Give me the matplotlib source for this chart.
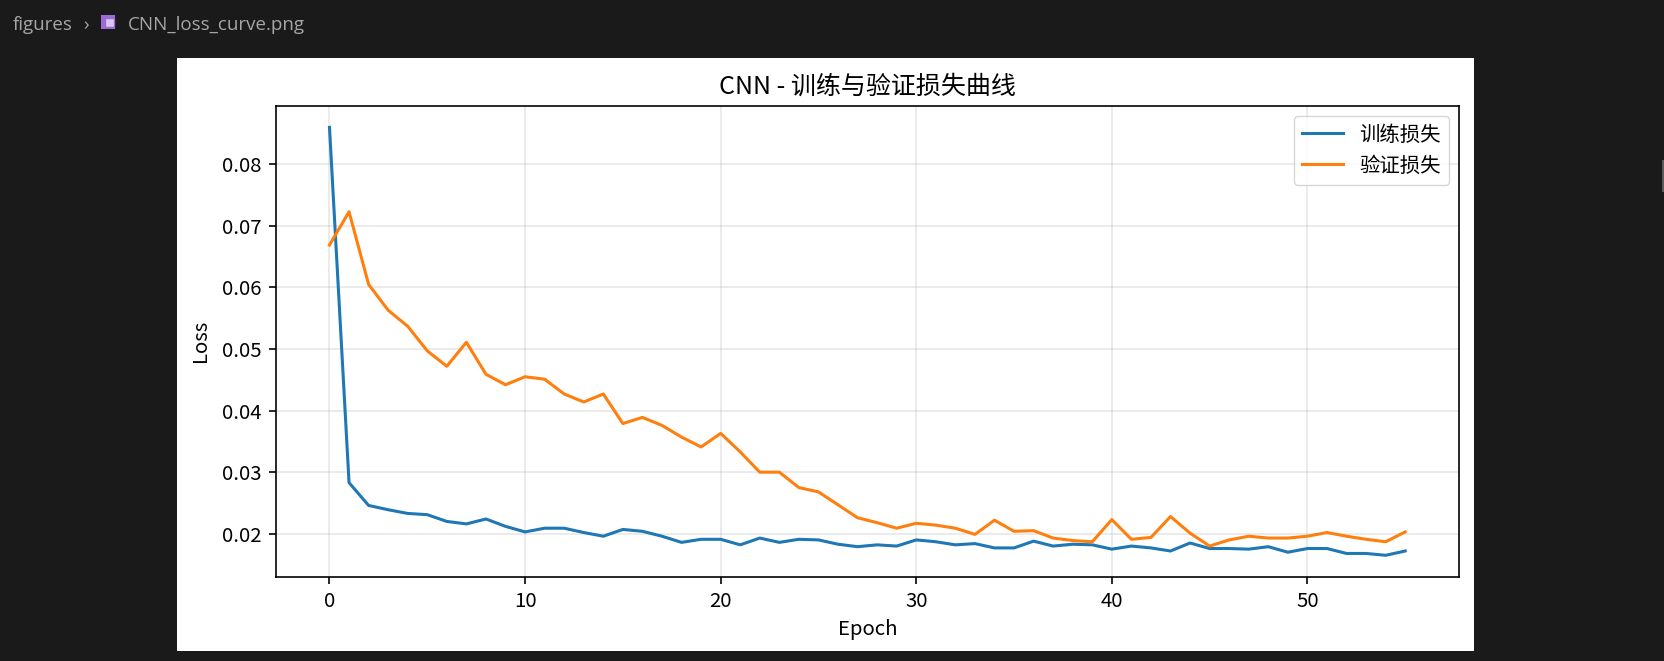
import matplotlib
matplotlib.use("Agg")
import matplotlib.pyplot as plt
from matplotlib.patches import Rectangle

plt.rcParams['font.family'] = ['Noto Sans CJK SC', 'DejaVu Sans']
plt.rcParams['axes.unicode_minus'] = False

# loss values, one per epoch (0..55)
train_loss = [0.0860, 0.0283, 0.0246, 0.0239, 0.0233, 0.0231, 0.0220, 0.0216, 0.0224, 0.0212,
              0.0203, 0.0209, 0.0209, 0.0202, 0.0196, 0.0207, 0.0204, 0.0196, 0.0186, 0.0191,
              0.0191, 0.0182, 0.0193, 0.0186, 0.0191, 0.0190, 0.0183, 0.0179, 0.0182, 0.0180,
              0.0190, 0.0187, 0.0182, 0.0184, 0.0177, 0.0177, 0.0188, 0.0180, 0.0183, 0.0182,
              0.0175, 0.0180, 0.0177, 0.0172, 0.0185, 0.0176, 0.0176, 0.0175, 0.0179, 0.0170,
              0.0176, 0.0176, 0.0168, 0.0168, 0.0165, 0.0172]
val_loss = [0.0669, 0.0723, 0.0605, 0.0563, 0.0537, 0.0497, 0.0472, 0.0511, 0.0459, 0.0442,
            0.0455, 0.0451, 0.0427, 0.0414, 0.0427, 0.0379, 0.0389, 0.0376, 0.0357, 0.0341,
            0.0363, 0.0333, 0.0300, 0.0300, 0.0275, 0.0268, 0.0247, 0.0226, 0.0218, 0.0209,
            0.0217, 0.0214, 0.0209, 0.0199, 0.0222, 0.0204, 0.0205, 0.0193, 0.0189, 0.0187,
            0.0223, 0.0191, 0.0194, 0.0228, 0.0201, 0.0180, 0.0190, 0.0196, 0.0193, 0.0193,
            0.0196, 0.0202, 0.0196, 0.0191, 0.0187, 0.0203]
epochs = list(range(len(train_loss)))

title = 'CNN - 训练与验证损失曲线'
labels = ['训练损失', '验证损失']

W, H = 1665, 661
fig = plt.figure(figsize=(W / 100, H / 100), dpi=100, facecolor='#1a1a1a')

# editor chrome: breadcrumb + white image panel
crumb = dict(color='#a6a6a6', fontsize=13.5, family=['Open Sans', 'DejaVu Sans'], va='baseline')
fig.text(13 / W, 1 - 30 / H, 'figures', **crumb)
fig.text(83 / W, 1 - 30 / H, '›', **crumb)
fig.text(128 / W, 1 - 30 / H, 'CNN_loss_curve.png', **crumb)
fig.patches.append(Rectangle((101 / W, 1 - 29 / H), 14 / W, 14 / H, transform=fig.transFigure,
                             facecolor='#9b6bd6', edgecolor='none'))
fig.patches.append(Rectangle((105 / W, 1 - 27 / H), 9 / W, 9 / H, transform=fig.transFigure,
                             facecolor='#d9c6f2', edgecolor='#9b6bd6', linewidth=1))
fig.patches.append(Rectangle((1662 / W, 1 - 192 / H), 2 / W, 32 / H, transform=fig.transFigure,
                             facecolor='#5a5a5a', edgecolor='none'))
fig.patches.append(Rectangle((176.7 / W, 1 - 650.7 / H), 1297.3 / W, 592.7 / H,
                             transform=fig.transFigure, facecolor='white', edgecolor='none',
                             zorder=0))

ax = fig.add_axes([275.7 / W, 1 - 576.7 / H, 1183.3 / W, 470.7 / H])
ax.set_zorder(2)
ax.plot(epochs, train_loss, color='#1f77b4', lw=2.2, label=labels[0])
ax.plot(epochs, val_loss, color='#ff7f0e', lw=2.2, label=labels[1])

ax.set_title(title, fontsize=18, pad=9)
ax.set_xlabel('Epoch', fontsize=14.7, labelpad=5)
ax.set_ylabel('Loss', fontsize=14.7, labelpad=8)
ax.tick_params(labelsize=14.7, length=5.1, width=1.18, pad=5)
for s in ax.spines.values():
    s.set_linewidth(1.18)
ax.grid(True, alpha=0.3, linewidth=1.18)
ax.legend(fontsize=14.7, framealpha=0.8)

fig.savefig('out.png', dpi=100, facecolor=fig.get_facecolor())
